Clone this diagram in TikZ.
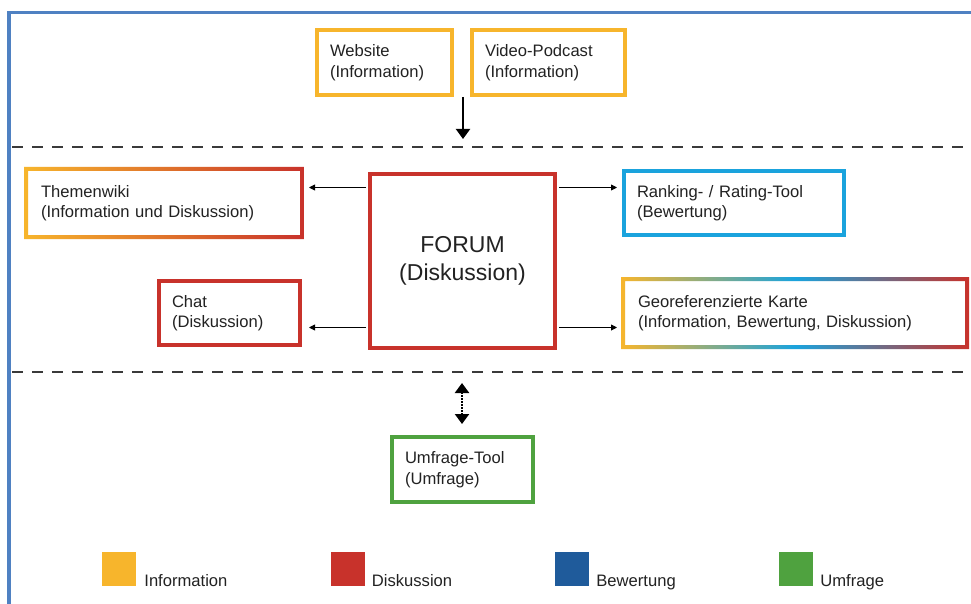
\documentclass[tikz,border=0pt]{standalone}
\usepackage{fontspec}
\setmainfont{Liberation Sans}
\usetikzlibrary{arrows.meta,calc}
\definecolor{infoY}{HTML}{F7B52C}
\definecolor{diskR}{HTML}{C8322B}
\definecolor{bewB}{HTML}{1F5B9B}
\definecolor{rankB}{HTML}{1AA3DD}
\definecolor{umfG}{HTML}{4FA23F}
\definecolor{frameB}{HTML}{4F81C2}
\definecolor{dashG}{HTML}{3A3A3A}
\definecolor{txtG}{HTML}{222222}
\begin{document}
\begin{tikzpicture}[x=1pt,y=-1pt,
  boxtext/.style={font=\fontsize{16.6}{20.5}\selectfont, text=txtG},
  box/.style={boxtext, line width=4pt, align=left, inner xsep=13pt, inner ysep=0pt},
  sep/.style={dashG, line width=1.3pt, dash pattern=on 11pt off 9pt},
  thinarr/.style={line width=0.9pt, -{Triangle[length=6pt,width=6pt]}},
  legsq/.style={minimum width=34pt, minimum height=34pt, inner sep=0pt},
  legtxt/.style={boxtext, anchor=base west, inner sep=0pt}
]
\useasboundingbox (0,0) rectangle (971,604);
\fill[white] (0,0) rectangle (971,604);

% outer frame
\coordinate (fb) at (9,604);
\coordinate (fc) at (9,12.5);
\coordinate (fr) at (971,12.5);
\draw[frameB, line width=3.5pt] (fb) -- (fc) -- (fr);

% separators
\coordinate (s1a) at (12,147);
\coordinate (s1b) at (971,147);
\coordinate (s2a) at (12,372);
\coordinate (s2b) at (971,372);
\draw[sep] (s1a) -- (s1b);
\draw[sep] (s2a) -- (s2b);

% top boxes
\node[box, draw=infoY, minimum width=135pt, text width=109pt, minimum height=65pt] (web) at (384.5,62.5) {Website\\(Information)};
\node[box, draw=infoY, minimum width=153pt, text width=127pt, minimum height=65pt] (video) at (548.5,62.5) {Video-Podcast\\(Information)};

% forum row
\node[draw=diskR, line width=4pt, minimum width=185pt, minimum height=174pt, align=center,
      font=\fontsize{23}{28}\selectfont, text=txtG] (forum) at (462.5,261) {FORUM\\(Diskussion)};

\node[box, draw=none, minimum width=272pt, text width=246pt, minimum height=64pt] (themen) at (164,203) {Themenwiki\\(Information und Diskussion)};
\shade[left color=infoY, right color=diskR, even odd rule]
  ($(themen.south west)+(-2,2)$) rectangle ($(themen.north east)+(2,-2)$)
  ($(themen.south west)+(2,-2)$) rectangle ($(themen.north east)+(-2,2)$);

\node[box, draw=rankB, minimum width=220pt, text width=194pt, minimum height=64pt] (rank) at (734,203) {Ranking- / Rating-Tool\\(Bewertung)};

\node[box, draw=diskR, minimum width=141pt, text width=115pt, minimum height=64pt] (chat) at (229.5,313) {Chat\\(Diskussion)};

\node[box, draw=none, minimum width=340pt, text width=314pt, minimum height=64pt] (geo) at (795,313) {Georeferenzierte Karte\\(Information, Bewertung, Diskussion)};
\shade[left color=infoY, right color=diskR, middle color=rankB, even odd rule]
  ($(geo.south west)+(-2,2)$) rectangle ($(geo.north east)+(2,-2)$)
  ($(geo.south west)+(2,-2)$) rectangle ($(geo.north east)+(-2,2)$);

% umfrage
\node[box, draw=umfG, minimum width=141pt, text width=115pt, minimum height=65pt] (umf) at (462.5,469.5) {Umfrage-Tool\\(Umfrage)};

% arrows
\coordinate (ta) at (463,97);
\coordinate (tb) at (463,139);
\draw[line width=2pt, -{Triangle[length=10pt,width=14pt]}] (ta) -- (tb);

\coordinate (r1) at (0,187.5);
\coordinate (r2) at (0,327.5);
\draw[thinarr, shorten <=2pt, shorten >=7pt] (forum.west |- r1) -- (themen.east |- r1);
\draw[thinarr, shorten <=2pt, shorten >=7pt] (forum.west |- r2) -- (chat.east |- r2);
\draw[thinarr, shorten <=2pt, shorten >=5pt] (forum.east |- r1) -- (rank.west |- r1);
\draw[thinarr, shorten <=2pt, shorten >=6pt] (forum.east |- r2) -- (geo.west |- r2);

\coordinate (da) at (462,383);
\coordinate (db) at (462,424);
\draw[line width=2.2pt, dash pattern=on 1.8pt off 1.2pt,
  {Triangle[length=10pt,width=14pt]}-{Triangle[length=10pt,width=14pt]}] (da) -- (db);

% legend
\node[legsq, fill=infoY] (l1) at (119,569) {};
\node[legsq, fill=diskR] (l2) at (347.5,569) {};
\node[legsq, fill=bewB]  (l3) at (572,569) {};
\node[legsq, fill=umfG]  (l4) at (796,569) {};
\node[legtxt] (t1) at ($(l1.south east)+(8,0)$) {Information};
\node[legtxt] (t2) at ($(l2.south east)+(7,0)$) {Diskussion};
\node[legtxt] (t3) at ($(l3.south east)+(7,0)$) {Bewertung};
\node[legtxt] (t4) at ($(l4.south east)+(7,0)$) {Umfrage};
\end{tikzpicture}
\end{document}
